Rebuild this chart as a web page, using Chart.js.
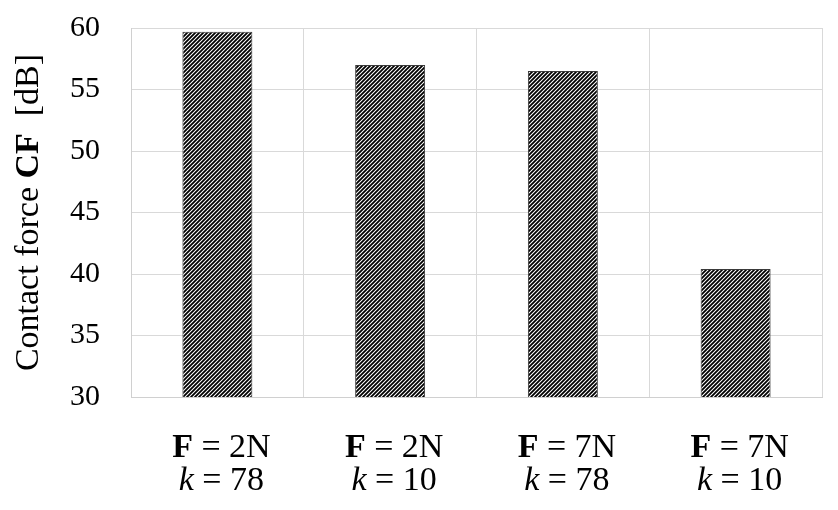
<!DOCTYPE html>
<html>
<head>
<meta charset="utf-8">
<script src="https://cdn.jsdelivr.net/npm/chart.js@4.4.1/dist/chart.umd.min.js"></script>
<style>
  html, body { margin: 0; padding: 0; background: #fff; }
  #wrap { width: 838px; height: 510px; }
</style>
</head>
<body>
<div id="wrap"><canvas id="Chart"></canvas></div>
<script>
// data
const forceLabels = ["2N", "2N", "7N", "7N"];
const kLabels = ["78", "10", "78", "10"];
const values = [59.7, 57.0, 56.5, 40.4];
const yTicks = [30, 35, 40, 45, 50, 55, 60];

const serif = "'Liberation Serif', 'Times New Roman', serif";

// diagonal hatch like the original
function makeHatch() {
  const c = document.createElement("canvas");
  c.width = 4;
  c.height = 4;
  const g = c.getContext("2d");
  g.fillStyle = "#fff";
  g.fillRect(0, 0, 4, 4);
  g.strokeStyle = "#000";
  g.lineWidth = 1.8;
  g.beginPath();
  g.moveTo(-1, 5); g.lineTo(5, -1);
  g.moveTo(-3, 3); g.lineTo(3, -3);
  g.moveTo(1, 7); g.lineTo(7, 1);
  g.stroke();
  return g.createPattern(c, "repeat");
}

// draws a line made of pieces with different font styles, centred on x
function drawMixed(ctx, parts, cx, y, size) {
  let total = 0;
  parts.forEach((p) => {
    ctx.font = `${p.style || ""} ${size}px ${serif}`;
    p.w = ctx.measureText(p.t).width;
    total += p.w;
  });
  let x = cx - total / 2;
  parts.forEach((p) => {
    ctx.font = `${p.style || ""} ${size}px ${serif}`;
    ctx.fillText(p.t, x, y);
    x += p.w;
  });
}

const labelPlugin = {
  id: "mixedLabels",
  afterDraw(chart) {
    const ctx = chart.ctx;
    const xs = chart.scales.x;
    ctx.save();
    ctx.fillStyle = "#000";
    ctx.textAlign = "left";
    ctx.textBaseline = "alphabetic";
    forceLabels.forEach((f, i) => {
      const cx = xs.getPixelForValue(i) + 4;
      drawMixed(ctx, [{ t: "F", style: "bold" }, { t: " = " + f }], cx, 457, 34);
      drawMixed(ctx, [{ t: "k", style: "italic" }, { t: " = " + kLabels[i] }], cx, 490, 34);
    });

    // rotated y title with bold CF
    const area = chart.chartArea;
    ctx.translate(38, (area.top + area.bottom) / 2);
    ctx.rotate(-Math.PI / 2);
    drawMixed(ctx, [
      { t: "Contact force " },
      { t: "CF", style: "bold" },
      { t: "  [dB]" },
    ], 0, 0, 34);
    ctx.restore();
  },
};

const ctx = document.getElementById("Chart").getContext("2d");
new Chart(ctx, {
  type: "bar",
  data: {
    labels: forceLabels.map((f, i) => f + " " + kLabels[i]),
    datasets: [
      {
        data: values,
        backgroundColor: makeHatch(),
        borderColor: "#3a3a3a",
        borderWidth: 1,
        borderSkipped: false,
        categoryPercentage: 1,
        barPercentage: 0.405,
      },
    ],
  },
  options: {
    responsive: true,
    maintainAspectRatio: false,
    animation: false,
    layout: { padding: { top: 28, right: 16, left: 0, bottom: 0 } },
    plugins: {
      legend: { display: false },
      tooltip: { enabled: false },
    },
    scales: {
      x: {
        grid: { color: "#d9d9d9", lineWidth: 1, drawTicks: false, offset: true },
        border: { color: "#d0d0d0" },
        ticks: { display: false },
        afterFit: (s) => { s.height = 113; },
      },
      y: {
        min: 30,
        max: 60,
        afterBuildTicks: (s) => { s.ticks = yTicks.map((v) => ({ value: v })); },
        grid: { color: "#d9d9d9", lineWidth: 1, drawTicks: false },
        border: { color: "#d0d0d0" },
        ticks: {
          color: "#000",
          padding: 31,
          font: { family: serif, size: 30 },
        },
        afterFit: (s) => {
          s.width = 131;
          s.paddingTop = 0;
          s.paddingBottom = 0;
        },
      },
    },
  },
  plugins: [labelPlugin],
});
</script>
</body>
</html>
